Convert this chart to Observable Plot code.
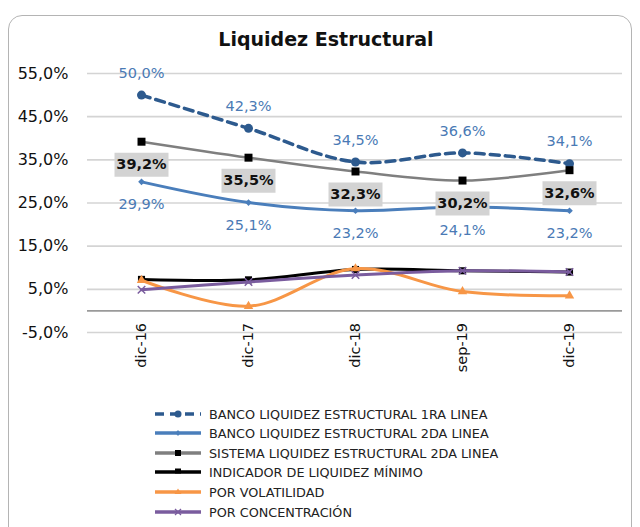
<!DOCTYPE html>
<html>
<head>
<meta charset="utf-8">
<script src="https://cdn.jsdelivr.net/npm/d3@7"></script>
<script src="https://cdn.jsdelivr.net/npm/@observablehq/plot@0.6"></script>
<style>
  body { margin: 0; background: #fff; font-family: "DejaVu Sans", sans-serif; }
  #frame { position: absolute; left: 8px; top: 15px; width: 622px; height: 540px; border: 1.5px solid #b4b4b4; border-radius: 14px; }
  #title { position: absolute; left: 0; width: 652px; top: 28px; text-align: center; font: bold 19px "DejaVu Sans", sans-serif; color: #111; }
  #chart { position: absolute; left: 0; top: 60px; }
  .row { position: absolute; left: 153px; height: 20px; display: flex; align-items: center; font: 12.8px "DejaVu Sans", sans-serif; color: #222; white-space: nowrap; }
  .row svg { margin-right: 6px; }
</style>
</head>
<body>
<div id="frame"></div>
<div id="title">Liquidez Estructural</div>
<div id="chart"></div>
<div id="legend"></div>
<script>
const categories = ["dic-16", "dic-17", "dic-18", "sep-19", "dic-19"];
const seriesNames = [
  "BANCO LIQUIDEZ ESTRUCTURAL 1RA LINEA",
  "BANCO LIQUIDEZ ESTRUCTURAL 2DA LINEA",
  "SISTEMA LIQUIDEZ ESTRUCTURAL 2DA LINEA",
  "INDICADOR DE LIQUIDEZ MÍNIMO",
  "POR VOLATILIDAD",
  "POR CONCENTRACIÓN"
];
const banco1ra = [50.0, 42.3, 34.5, 36.6, 34.1];
const banco2da = [29.9, 25.1, 23.2, 24.1, 23.2];
const sistema2da = [39.2, 35.5, 32.3, 30.2, 32.6];
const indicadorMinimo = [7.3, 7.2, 9.6, 9.3, 9.0];
const volatilidad = [7.1, 1.1, 9.8, 4.5, 3.5];
const concentracion = [4.9, 6.7, 8.3, 9.3, 9.0];
const yTicks = [-5, 5, 15, 25, 35, 45, 55];

const colors = ["#2d5a8e", "#4a7ebb", "#7f7f7f", "#000000", "#f79646", "#7a5c9e"];

const toRows = (vals) => categories.map((c, i) => ({cat: c, v: vals[i]}));
const s1 = toRows(banco1ra), s2 = toRows(banco2da), s3 = toRows(sistema2da),
      s4 = toRows(indicadorMinimo), s5 = toRows(volatilidad), s6 = toRows(concentracion);
const fmt = (v) => v.toFixed(1).replace(".", ",") + "%";
const shadow = "drop-shadow(1.5px 2px 1.5px rgba(0,0,0,0.35))";
const boxSymbol = { draw(ctx) { ctx.rect(-27, -12, 54, 24); } };

const lineOpts = (color, w, extra = {}) => ({x: "cat", y: "v", stroke: color, strokeWidth: w, curve: "catmull-rom", style: {filter: shadow}, ...extra});

const chart = Plot.plot({
  width: 640,
  height: 325,
  marginTop: 13,
  marginBottom: 53,
  marginLeft: 87,
  marginRight: 18,
  style: {fontFamily: "DejaVu Sans", background: "transparent"},
  x: {type: "point", domain: categories, padding: 0.5, axis: null},
  y: {domain: [-5, 55], axis: null},
  marks: [
    Plot.gridY(yTicks, {stroke: "#d4d4d4", strokeOpacity: 1, strokeWidth: 1.6}),
    Plot.ruleY([0], {stroke: "#9a9a9a", strokeWidth: 1.6}),
    Plot.text(yTicks, {x: () => categories[0], y: (d) => d, text: fmt, textAnchor: "end", dx: -73, fontSize: 16, fill: "#111"}),
    Plot.text(categories, {x: (d) => d, y: () => 0, text: (d) => d, rotate: -90, textAnchor: "end", dy: 12, fontSize: 14.5, fill: "#111"}),
    // series 1
    Plot.line(s1, lineOpts(colors[0], 3.5, {strokeDasharray: "9,6"})),
    Plot.dot(s1, {x: "cat", y: "v", r: 4.5, fill: colors[0], symbol: "circle"}),
    // series 2
    Plot.line(s2, lineOpts(colors[1], 3)),
    Plot.dot(s2, {x: "cat", y: "v", r: 3, fill: colors[1], symbol: "diamond2"}),
    // series 3
    Plot.line(s3, {x: "cat", y: "v", stroke: colors[2], strokeWidth: 2.5, curve: "catmull-rom"}),
    Plot.dot(s3, {x: "cat", y: "v", r: 4.5, fill: "#000", symbol: "square"}),
    // series 4
    Plot.line(s4, lineOpts(colors[3], 3)),
    Plot.dot(s4, {x: "cat", y: "v", r: 4, fill: "#000", symbol: "square"}),
    // series 5
    Plot.line(s5, lineOpts(colors[4], 3)),
    Plot.dot(s5, {x: "cat", y: "v", r: 3.5, fill: colors[4], symbol: "triangle"}),
    // series 6
    Plot.line(s6, lineOpts(colors[5], 3)),
    Plot.dot(s6, {x: "cat", y: "v", r: 3.5, stroke: colors[5], strokeWidth: 1.5, symbol: "times"}),
    // labels
    Plot.text(s1, {x: "cat", y: "v", text: (d) => fmt(d.v), dy: -22, fontSize: 14.5, fill: "#4a7ab5"}),
    Plot.text(s2, {x: "cat", y: "v", text: (d) => fmt(d.v), dy: 23, fontSize: 14.5, fill: "#4a7ab5"}),
    Plot.dot(s3, {x: "cat", y: "v", r: 5, symbol: boxSymbol, fill: "#d3d3d3", dy: 23}),
    Plot.text(s3, {x: "cat", y: "v", text: (d) => fmt(d.v), dy: 23, fontSize: 14.5, fontWeight: "bold", fill: "#111"})
  ]
});
document.getElementById("chart").appendChild(chart);

// legend
const rowCenters = [414, 433, 453, 472, 492, 512];
const legend = document.getElementById("legend");
const swatch = (i) => {
  const c = colors[i];
  let line = `<line x1="2" y1="10" x2="48" y2="10" stroke="${c}" stroke-width="3.5"${i === 0 ? ' stroke-dasharray="9,6"' : ""}/>`;
  let m = "";
  if (i === 0) m = `<circle cx="25" cy="10" r="3.5" fill="${c}"/>`;
  if (i === 1) m = `<path d="M25,7 L27.5,10 L25,13 L22.5,10Z" fill="${c}"/>`;
  if (i === 2) m = `<rect x="22" y="7" width="6" height="6" fill="#000"/>`;
  if (i === 3) m = `<rect x="22" y="6.5" width="6" height="5" fill="#000"/>`;
  if (i === 4) m = `<path d="M25,6.5 L28.5,12 L21.5,12Z" fill="${c}"/>`;
  if (i === 5) m = `<path d="M22,7 L28,13 M28,7 L22,13" stroke="${c}" stroke-width="1.3"/>`;
  return `<svg width="50" height="20">${line}${m}</svg>`;
};
seriesNames.forEach((name, i) => {
  const row = document.createElement("div");
  row.className = "row";
  row.style.top = (rowCenters[i] - 10) + "px";
  row.innerHTML = swatch(i) + `<span>${name}</span>`;
  legend.appendChild(row);
});
</script>
</body>
</html>
